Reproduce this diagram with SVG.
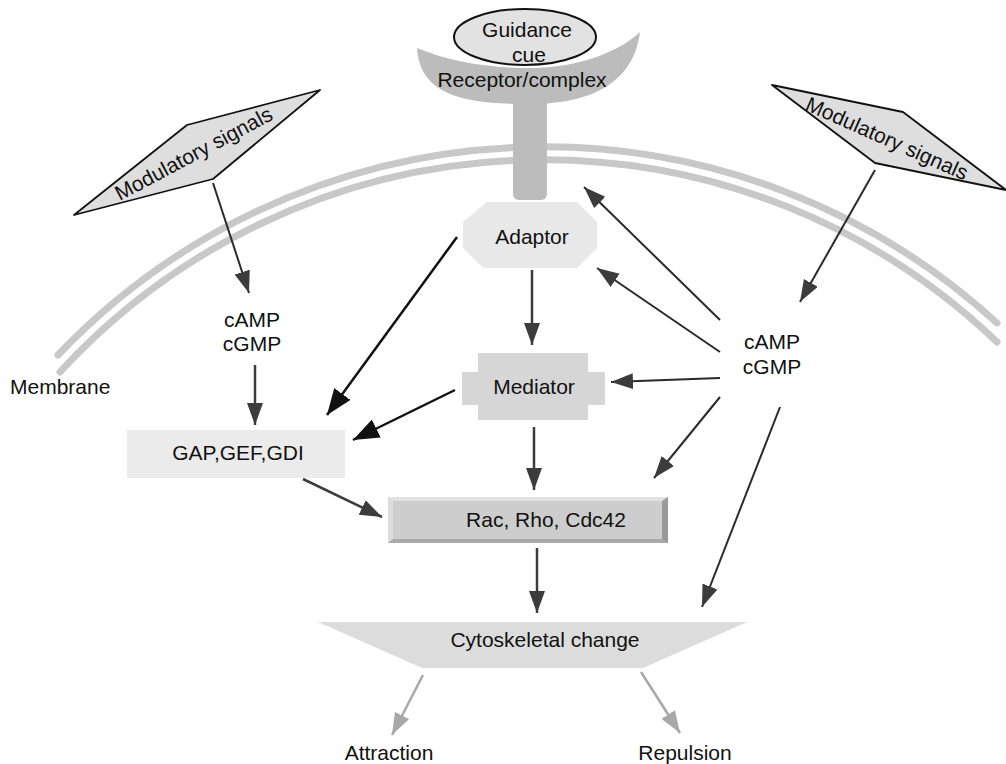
<svg xmlns="http://www.w3.org/2000/svg" width="1006" height="764" viewBox="0 0 1006 764">
  <style>
    text { font-family: "Liberation Sans", Arial, sans-serif; font-size: 21px; fill: #111; }
    .mid { text-anchor: middle; }
    .membrane { fill: none; stroke: #c8c8c8; stroke-width: 7; stroke-linecap: round; }
    .arrow { fill: none; stroke: #3c3c3c; stroke-width: 2.5; marker-end: url(#head); }
    .arrow-thin { fill: none; stroke: #2a2a2a; stroke-width: 2; marker-end: url(#head); }
    .arrow-bold { fill: none; stroke: #111; stroke-width: 2.5; marker-end: url(#head-black); }
    .arrow-light { fill: none; stroke: #a8a8a8; stroke-width: 2.5; marker-end: url(#head-light); }
    .signal { fill: #dedede; stroke: #111; stroke-width: 1.8; stroke-linejoin: round; }
  </style>
  <defs>
    <marker id="head" markerUnits="userSpaceOnUse" markerWidth="24" markerHeight="18" refX="22" refY="8" orient="auto">
      <path d="M0,0 L22,8 L0,16 Z" fill="#3c3c3c"/>
    </marker>
    <marker id="head-black" markerUnits="userSpaceOnUse" markerWidth="28" markerHeight="22" refX="26" refY="10" orient="auto">
      <path d="M0,0 L26,10 L0,20 Z" fill="#111"/>
    </marker>
    <marker id="head-light" markerUnits="userSpaceOnUse" markerWidth="24" markerHeight="18" refX="22" refY="8" orient="auto">
      <path d="M0,0 L22,8 L0,16 Z" fill="#a8a8a8"/>
    </marker>
  </defs>

  <rect width="1006" height="764" fill="#ffffff"/>

  <!-- double-line cell membrane -->
  <g id="membrane">
    <path class="membrane" d="M58,355 A671,671 0 0 1 997,323"/>
    <path class="membrane" d="M60,372 A656,656 0 0 1 997,342"/>
    <text x="10" y="394">Membrane</text>
  </g>

  <!-- receptor cup with bound guidance cue -->
  <g id="receptor">
    <rect x="513" y="90" width="34" height="110" rx="6" fill="#bcbcbc"/>
    <path d="M417,48 C420,98 470,104 530,104 C592,104 634,82 640,32 C612,58 566,68 530,68 C490,68 450,62 417,48 Z" fill="#bcbcbc"/>
    <ellipse cx="525" cy="37" rx="71" ry="28" fill="#e2e2e2" stroke="#111" stroke-width="2"/>
    <text class="mid" x="527" y="37">Guidance</text>
    <text class="mid" x="529" y="62">cue</text>
    <text class="mid" x="522" y="87">Receptor/complex</text>
  </g>

  <g id="signal-left">
    <polygon class="signal" points="74,215 187,125 320,90 213,179"/>
    <text class="mid" transform="translate(197,160) rotate(-28)">Modulatory signals</text>
  </g>

  <g id="signal-right">
    <polygon class="signal" points="772,85 903,112 1006,190 875,163"/>
    <text class="mid" transform="translate(884,145) rotate(24)">Modulatory signals</text>
  </g>

  <g id="second-messenger-left">
    <text class="mid" x="252" y="327">cAMP</text>
    <text class="mid" x="252" y="351">cGMP</text>
  </g>

  <g id="second-messenger-right">
    <text class="mid" x="772" y="349">cAMP</text>
    <text class="mid" x="772" y="374">cGMP</text>
  </g>

  <g id="adaptor">
    <polygon points="487,202 577,202 597,222 597,248 577,268 483,268 463,248 463,222" fill="#e8e8e8"/>
    <text class="mid" x="532" y="244">Adaptor</text>
  </g>

  <g id="mediator">
    <rect x="462" y="372" width="143" height="33" fill="#d6d6d6"/>
    <rect x="478" y="353" width="110" height="67" fill="#d6d6d6"/>
    <text class="mid" x="534" y="394">Mediator</text>
  </g>

  <g id="gap-gef-gdi">
    <rect x="127" y="430" width="218" height="48" fill="#ebebeb"/>
    <text class="mid" x="238" y="460">GAP,GEF,GDI</text>
  </g>

  <g id="rho-gtpases">
    <rect x="388" y="497" width="280" height="46" fill="#cdcdcd"/>
    <polygon points="388,497 668,497 663,501 393,501" fill="#e2e2e2"/>
    <polygon points="388,497 393,501 393,539 388,543" fill="#dcdcdc"/>
    <polygon points="388,543 393,539 663,539 668,543" fill="#a9a9a9"/>
    <polygon points="668,497 662,501 662,539 668,543" fill="#9a9a9a"/>
    <text class="mid" x="546" y="527">Rac, Rho, Cdc42</text>
  </g>

  <g id="cytoskeleton">
    <polygon points="318,622 747,622 643,668 422,668" fill="#dcdcdc"/>
    <text class="mid" x="545" y="647">Cytoskeletal change</text>
  </g>

  <g id="outcomes">
    <text class="mid" x="389" y="760">Attraction</text>
    <text class="mid" x="685" y="760">Repulsion</text>
  </g>

  <g id="connectors">
    <line class="arrow-thin" x1="213" y1="183" x2="249" y2="293"/>
    <line class="arrow" x1="255" y1="365" x2="255" y2="425"/>
    <line class="arrow-bold" x1="457" y1="237" x2="327" y2="415"/>
    <line class="arrow-bold" x1="455" y1="390" x2="353" y2="440"/>
    <line class="arrow" x1="532" y1="270" x2="532" y2="345"/>
    <line class="arrow" x1="534" y1="427" x2="534" y2="490"/>
    <line class="arrow" x1="303" y1="479" x2="382" y2="517"/>
    <line class="arrow" x1="537" y1="548" x2="537" y2="613"/>
    <line class="arrow-thin" x1="720" y1="320" x2="584" y2="187"/>
    <line class="arrow-thin" x1="720" y1="352" x2="597" y2="268"/>
    <line class="arrow-thin" x1="720" y1="378" x2="611" y2="382"/>
    <line class="arrow-thin" x1="720" y1="397" x2="654" y2="478"/>
    <line class="arrow-thin" x1="780" y1="407" x2="702" y2="607"/>
    <line class="arrow-thin" x1="875" y1="170" x2="800" y2="302"/>
    <line class="arrow-light" x1="423" y1="675" x2="392" y2="735"/>
    <line class="arrow-light" x1="641" y1="672" x2="680" y2="733"/>
  </g>
</svg>
